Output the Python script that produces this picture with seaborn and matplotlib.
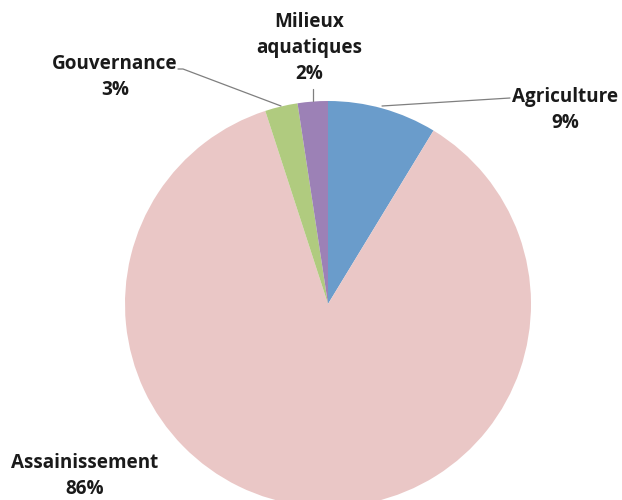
import matplotlib
matplotlib.use("Agg")
import matplotlib.pyplot as plt
import seaborn as sns

sns.set_theme(style="white")
plt.rcParams['font.family'] = ['Open Sans', 'DejaVu Sans']

categories = ["Agriculture", "Assainissement", "Gouvernance", "Milieux\naquatiques"]
values = [8.7, 86.3, 2.6, 2.4]
pct_labels = ["9%", "86%", "3%", "2%"]
colors = ["#6a9ccb", "#eac7c6", "#b0cb7f", "#9c81b6"]

fig = plt.figure(figsize=(6.22, 5.0), dpi=100)
ax = fig.add_axes([0, 0, 1, 1])

cx, cy, r = 328, 500 - 304, 203
ax.pie(values, colors=colors, startangle=90, counterclock=False,
       center=(cx, cy), radius=r, frame=True,
       wedgeprops=dict(linewidth=0))
ax.set_xlim(0, 622)
ax.set_ylim(0, 500)
ax.set_aspect('equal')
ax.axis('off')

def Y(y):
    return 500 - y

label_pos = [(565, 110), (85, 476), (115, 77), (309, 48)]
for cat, pct, (x, y) in zip(categories, pct_labels, label_pos):
    ax.text(x, Y(y), f"{cat}\n{pct}", ha="center", va="center",
            fontsize=13.6, fontweight="bold", color="#1a1a1a", linespacing=1.41)

line_kw = dict(color="#7f7f7f", lw=0.9)
ax.plot([510, 382], [Y(98), Y(106)], **line_kw)
ax.plot([178, 183, 281], [Y(69), Y(69), Y(106)], **line_kw)
ax.plot([313, 313], [Y(89), Y(101)], **line_kw)

fig.savefig("out.png", dpi=100)
